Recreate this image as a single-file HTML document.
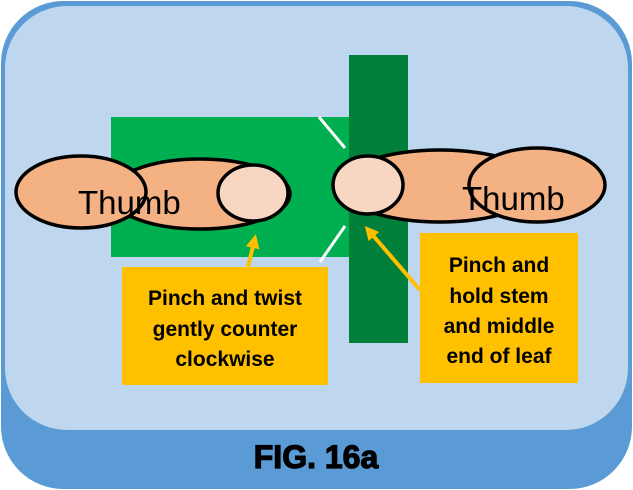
<!DOCTYPE html>
<html><head><meta charset="utf-8"><style>
html,body{margin:0;padding:0;background:#fff;width:633px;height:490px;overflow:hidden}
text{font-family:"Liberation Sans",sans-serif}
.c{font-family:"Liberation Sans",sans-serif;font-weight:bold;font-size:21px;fill:#000}
</style></head><body>
<svg width="633" height="490" viewBox="0 0 633 490" xmlns="http://www.w3.org/2000/svg">
<defs><marker id="ah" markerWidth="14" markerHeight="14" refX="6" refY="7" orient="auto" markerUnits="userSpaceOnUse"><path d="M0,0 L14,7 L0,14 Z" fill="#ffc000"/></marker></defs>
<rect x="1.5" y="1.5" width="630" height="487" rx="62" fill="#5b9bd5" stroke="#5b9bd5"/>
<rect x="5" y="6" width="623" height="424" rx="62" fill="#bfd7ee"/>
<rect x="111" y="117" width="238" height="140" fill="#00b050"/>
<rect x="349" y="55" width="59" height="288" fill="#00803a"/>
<line x1="319" y1="117" x2="345" y2="148" stroke="#fff" stroke-width="3"/>
<line x1="320" y1="262" x2="345" y2="226" stroke="#fff" stroke-width="3"/>
<g stroke="#000" stroke-width="3.5">
<ellipse cx="200" cy="194" rx="90" ry="35" fill="#f4b183"/>
<ellipse cx="81" cy="192" rx="65" ry="36" fill="#f4b183"/>
<ellipse cx="253" cy="193" rx="35" ry="28" fill="#f8d7c2"/>
<ellipse cx="440" cy="186" rx="100" ry="36" fill="#f4b183"/>
<ellipse cx="537" cy="185" rx="68" ry="37" fill="#f4b183"/>
<ellipse cx="368" cy="185" rx="35" ry="29" fill="#f8d7c2"/>
</g>
<text x="78" y="214" font-size="33">Thumb</text>
<text x="462" y="210" font-size="33">Thumb</text>
<rect x="122" y="267" width="206" height="118" fill="#ffc000"/>
<rect x="420" y="233" width="158" height="150" fill="#ffc000"/>
<line x1="248" y1="267" x2="254" y2="242" stroke="#ffc000" stroke-width="4" marker-end="url(#ah)"/>
<line x1="420" y1="290" x2="370" y2="232" stroke="#ffc000" stroke-width="4" marker-end="url(#ah)"/>
<g class="c" text-anchor="middle">
<text x="225" y="305">Pinch and twist</text>
<text x="225" y="336">gently counter</text>
<text x="225" y="366">clockwise</text>
<text x="499" y="272">Pinch and</text>
<text x="499" y="303">hold stem</text>
<text x="499" y="333">and middle</text>
<text x="499" y="363">end of leaf</text>
</g>
<text x="316" y="468" font-size="32" font-weight="bold" text-anchor="middle" fill="#000" stroke="#000" stroke-width="1.2">FIG. 16a</text>
</svg>
</body></html>
